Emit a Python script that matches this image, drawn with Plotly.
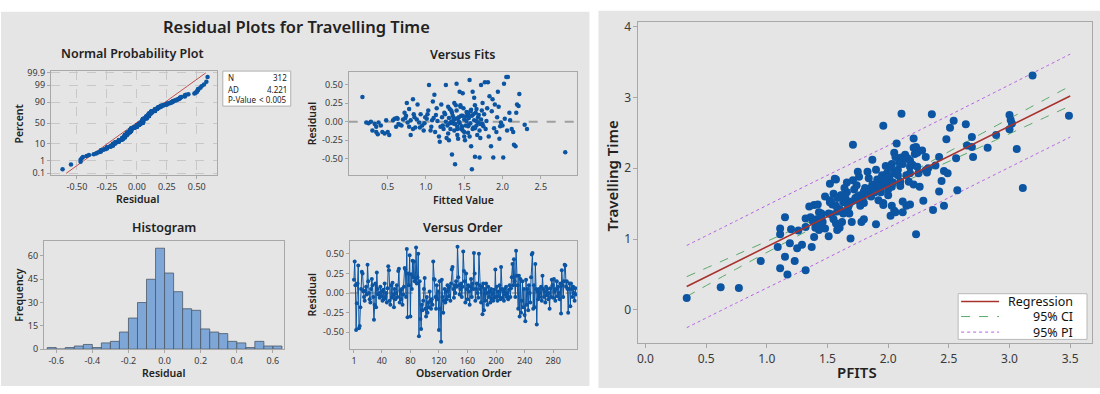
import plotly.graph_objects as go
from statistics import NormalDist

W, H = 1100, 394

# ---------------- data ----------------
# residuals in observation order
resid_order = [
    0.17, 0.40, 0.10, -0.47, -0.13, 0.12, 0.35, -0.45, -0.42, -0.18,
    0.05, 0.27, 0.25, 0.02, -0.05, -0.10, 0.03, 0.08, -0.02, 0.36,
    0.15, 0.00, -0.08, -0.12, 0.05, 0.18, 0.10, -0.05, -0.34, -0.15,
    0.12, -0.18, 0.26, 0.05, -0.02, 0.00, -0.06, 0.08, -0.04, 0.02,
    -0.10, 0.04, -0.08, 0.12, -0.05, 0.00, -0.12, 0.06, 0.34, 0.29,
    -0.10, -0.15, 0.10, -0.06, 0.13, -0.02, -0.18, 0.05, -0.08, 0.00,
    0.10, -0.05, 0.28, 0.31, -0.12, 0.03, -0.08, 0.05, -0.15, -0.02,
    0.08, 0.32, 0.30, -0.05, 0.56, -0.31, 0.25, 0.10, 0.48, -0.30,
    0.24, 0.05, 0.41, 0.20, 0.40, 0.15, 0.18, 0.58, 0.12, 0.20,
    0.50, -0.55, 0.15, -0.33, -0.46, -0.15, -0.22, -0.10, 0.05, 0.19,
    -0.20, -0.30, -0.05, -0.25, -0.12, -0.18, 0.02, -0.10, -0.20, -0.08,
    -0.15, 0.40, 0.18, 0.17, -0.05, -0.20, 0.10, -0.08, 0.02, -0.47,
    0.15, -0.20, -0.62, 0.17, -0.05, -0.25, -0.10, 0.05, -0.12, 0.02,
    -0.08, 0.10, 0.05, -0.04, 0.08, -0.10, 0.12, 0.30, 0.33, 0.05,
    -0.06, 0.10, 0.00, 0.15, 0.08, 0.59, 0.20, 0.10, -0.02, 0.05,
    0.12, -0.05, 0.08, 0.53, 0.28, 0.15, -0.12, 0.25, 0.05, -0.08,
    0.10, 0.02, -0.15, 0.08, 0.18, -0.05, 0.12, 0.05, 0.51, 0.25,
    -0.10, 0.05, 0.12, 0.00, -0.06, 0.50, 0.10, 0.05, -0.12, 0.08,
    -0.27, 0.12, -0.22, 0.05, -0.10, 0.12, 0.00, -0.15, 0.08, -0.05,
    0.02, -0.12, 0.05, -0.08, 0.00, -0.10, 0.04, -0.06, 0.30, -0.05,
    0.08, -0.10, 0.02, -0.04, 0.10, -0.08, 0.33, 0.05, -0.06, 0.02,
    -0.10, 0.05, -0.02, 0.08, -0.05, 0.00, -0.08, 0.04, 0.10, -0.05,
    0.06, 0.20, 0.37, 0.10, 0.43, 0.15, -0.05, 0.54, 0.22, 0.10,
    -0.20, 0.22, -0.30, 0.18, -0.25, -0.10, 0.15, -0.18, 0.05, -0.28,
    -0.36, 0.17, -0.15, 0.05, -0.22, 0.10, 0.00, -0.12, 0.20, 0.49,
    0.51, -0.20, 0.10, -0.18, 0.37, 0.05, -0.40, 0.02, -0.08, 0.05,
    -0.05, 0.00, 0.08, -0.10, 0.22, 0.05, -0.05, 0.02, -0.12, 0.08,
    -0.03, 0.05, -0.08, 0.00, -0.20, 0.06, -0.05, 0.17, 0.10, -0.06,
    0.18, 0.02, -0.10, 0.05, 0.15, -0.04, 0.08, 0.00, -0.08, 0.12,
    -0.26, 0.29, 0.10, -0.05, 0.15, 0.36, 0.35, 0.08, 0.15, 0.05,
    -0.25, 0.05, 0.12, -0.17, 0.12, 0.05, -0.05, 0.08, 0.00, -0.10,
    0.06, -0.02,
]

# fitted value / residual pairs
fits_fitted = [
    0.17, 0.22, 0.25, 0.28, 0.33, 0.35, 0.38, 0.35, 0.37, 0.43, 0.46, 0.50, 0.52, 0.48,
    0.59, 0.63, 0.64, 0.61, 0.70, 0.74, 0.76, 0.78, 0.80, 0.83, 0.85, 0.88, 0.75, 0.78,
    0.83, 0.89, 0.91, 0.95, 0.97, 0.99, 1.02, 1.04, 1.07, 1.09, 1.11, 1.12, 1.15, 1.18,
    1.20, 1.22, 1.24, 1.26, 1.29, 1.31, 1.33, 1.34, 1.35, 1.37, 1.38, 1.40, 1.41, 1.42,
    1.44, 1.46, 1.48, 1.50, 1.53, 1.55, 1.57, 1.59, 1.60, 1.61, 1.63, 1.64, 1.66, 1.68,
    1.70, 1.72, 1.74, 1.77, 1.79, 1.81, 1.83, 1.85, 1.88, 1.90, 1.92, 1.94, 1.96, 1.98,
    2.01, 2.02, 2.05, 2.07, 2.09, 2.12, 2.14, 2.15, 2.17, 2.18, 2.19, 2.21, 2.22, 2.29,
    2.32, 2.82,
    1.25, 1.28, 1.30, 1.32, 1.34, 1.36, 1.38, 1.40, 1.42, 1.44, 1.45, 1.46, 1.48, 1.50,
    1.52, 1.54, 1.55, 1.56, 1.58, 1.60, 1.62, 1.63, 1.65, 1.66, 1.68, 1.70, 1.72, 1.74,
    1.76, 1.78, 0.62, 0.68, 0.72, 0.80, 0.86, 0.93, 0.98, 1.03, 1.06, 1.10, 1.14, 1.17,
    1.21, 1.23, 1.27, 1.29, 1.31, 1.33, 1.37, 1.39, 1.41, 1.43, 1.47, 1.49, 1.51, 1.53,
    1.57, 1.59, 1.61, 1.64, 1.67, 1.69, 1.71, 1.73, 1.75, 1.80, 1.82, 1.86, 1.89, 1.93,
    1.97, 2.03, 2.06, 2.10, 1.35, 1.39, 1.43, 1.47, 1.52, 1.56, 1.62, 1.66, 1.71, 1.45,
    1.50, 1.58, 1.41, 1.36, 1.26, 1.19, 1.13, 1.08, 1.01, 0.92, 0.84, 0.73, 0.66, 0.57,
    0.41, 0.30, 1.55, 1.64, 1.48, 1.38, 1.30, 1.87, 1.95, 2.00,
]
fits_resid = [
    0.33, -0.01, -0.02, 0.00, -0.03, -0.07, -0.01, -0.14, -0.17, -0.14, -0.16, -0.14, -0.18, 0.02,
    0.04, 0.04, -0.03, -0.07, 0.03, 0.08, -0.01, -0.07, -0.18, -0.10, 0.06, 0.03, 0.25, 0.17,
    0.30, 0.23, -0.01, -0.05, -0.12, 0.06, 0.10, 0.49, -0.07, 0.27, 0.36, -0.14, 0.01, -0.27,
    0.23, -0.05, 0.12, 0.49, -0.16, 0.17, 0.00, -0.44, 0.08, 0.25, -0.57, 0.51, -0.07, -0.23,
    0.40, 0.08, 0.38, -0.14, 0.01, 0.10, 0.56, -0.33, -0.64, 0.40, 0.32, -0.47, 0.17, -0.01,
    -0.48, 0.49, 0.25, 0.53, 0.01, 0.53, 0.34, -0.33, -0.48, 0.23, -0.14, 0.40, -0.23, -0.01,
    -0.48, 0.51, 0.60, 0.60, 0.12, -0.10, -0.14, -0.31, -0.33, 0.12, 0.23, 0.21, 0.37, -0.04,
    -0.10, -0.41,
    0.10, -0.05, 0.05, -0.10, 0.12, 0.02, -0.03, 0.15, 0.05, -0.02, 0.20, -0.10, 0.08, 0.03,
    -0.05, 0.12, -0.15, 0.05, -0.02, 0.08, -0.08, 0.02, 0.12, -0.05, 0.06, -0.12, 0.03, -0.03,
    0.10, -0.10, 0.05, -0.05, 0.12, 0.02, -0.08, 0.10, -0.02, 0.15, -0.12, 0.05, 0.18, -0.20,
    0.06, -0.10, -0.22, 0.20, -0.02, 0.15, -0.12, 0.22, -0.18, 0.06, -0.08, 0.18, -0.25, 0.13,
    -0.20, 0.16, -0.10, 0.22, -0.18, 0.09, -0.22, 0.15, -0.06, 0.18, -0.20, 0.14, -0.09, 0.06,
    -0.06, 0.04, -0.12, 0.02, -0.02, 0.04, 0.00, -0.06, 0.07, -0.04, 0.10, 0.01, -0.03, 0.22,
    -0.20, 0.14, -0.10, 0.05, 0.00, -0.07, 0.09, 0.02, 0.04, -0.08, 0.10, 0.05, -0.04, 0.02,
    -0.05, -0.12, -0.06, -0.09, -0.12, -0.03, -0.25, 0.30, 0.20, -0.05, 0.00, -0.12, -0.06, -0.08,
]

# histogram of residuals (bin centres, counts)
hist_centers = [
    -0.625, -0.575, -0.525, -0.475, -0.425, -0.375, -0.325, -0.275, -0.225, -0.175, -0.125, -0.075, -0.025,
    0.025, 0.075, 0.125, 0.175, 0.225, 0.275, 0.325, 0.375, 0.425, 0.475, 0.525, 0.575, 0.625,
]
hist_counts = [1, 0, 1, 2, 3, 1, 4, 5, 11, 20, 30, 45, 65, 49, 37, 26, 25, 13, 11, 10, 5, 4, 1, 5, 2, 2]

# normal probability reference line end points
npp_ref_resid = [-0.59, 0.575]
npp_ref_pct = [0.1, 99.9]
npp_pct_ticks = [0.1, 1, 10, 50, 90, 99, 99.9]
npp_stats = [("N", "312"), ("AD", "4.221"), ("P-Value", "< 0.005")]

# fitted line plot: PFITS vs travelling time
pfits = [
    3.19, 3.49, 3.00, 3.01, 3.02, 3.00, 3.06, 3.11, 2.89, 2.82, 2.69, 2.65, 2.69, 2.70,
    2.64, 2.54, 2.51, 2.48, 2.56, 2.57, 2.42, 2.39, 2.36, 2.42, 2.44, 2.46, 2.49, 2.33,
    2.31, 2.32, 2.25, 2.28, 2.31, 2.26, 2.11, 1.96, 1.71, 1.87, 2.21, 2.21, 2.23, 2.07,
    2.05, 2.06, 2.11, 2.14, 2.16, 2.18, 2.22, 2.24, 2.18, 2.20, 2.12, 2.09, 2.03, 1.98,
    1.99, 2.02, 2.05, 2.07, 2.15, 2.10, 2.17, 2.24, 2.18, 1.95, 1.91, 1.84, 1.87, 1.95,
    2.02, 2.03, 2.10, 2.21, 1.75, 1.66, 1.74, 1.66, 1.55, 1.57, 1.52, 1.56, 1.77, 1.85,
    1.80, 1.94, 1.61,
    0.34, 0.62, 0.77, 0.95, 1.11, 1.17, 1.32, 1.09, 1.15, 1.23, 1.19, 1.25, 1.29, 1.37,
    1.11, 1.11, 1.20, 1.15, 1.39, 1.32, 1.32, 1.36, 1.39, 1.42, 1.35, 1.43, 1.45, 1.41,
    1.40, 1.42, 1.43, 1.45, 1.48, 1.46, 1.51, 1.51, 1.54, 1.52, 1.58, 1.55, 1.60, 1.58,
    1.57, 1.63, 1.66, 1.62, 1.68, 1.63, 1.69, 1.70, 1.70, 1.78, 1.80, 1.77, 1.80, 1.90,
    1.96, 1.96, 2.02, 2.03, 2.05, 2.06, 2.12, 2.15, 2.18, 2.12, 2.23, 2.37, 2.46, 2.29,
    1.48, 1.52, 1.58, 1.62, 1.65, 1.72, 1.75, 1.82, 1.86, 1.88, 1.92, 1.97, 2.00, 2.04,
    1.60, 1.68, 1.74, 1.79, 1.84, 1.89, 1.93, 2.01, 2.08, 1.64, 1.71, 1.76, 1.83, 1.90,
    1.94, 1.99, 2.08, 1.73, 1.81, 1.86, 1.92, 2.00, 1.57, 1.67, 1.53, 1.45, 1.38, 1.26,
]
travel = [
    3.31, 2.74, 2.75, 2.68, 2.63, 2.55, 2.27, 1.72, 2.47, 2.29, 2.44, 2.32, 2.30, 2.16,
    2.62, 2.67, 2.57, 2.41, 2.14, 1.69, 2.16, 2.04, 2.76, 1.67, 1.82, 1.96, 1.93, 2.00,
    1.97, 1.94, 1.93, 2.25, 2.16, 1.74, 2.77, 2.60, 2.33, 2.12, 2.42, 2.29, 2.30, 2.35,
    2.22, 2.16, 2.15, 2.19, 2.14, 2.11, 2.20, 2.22, 2.02, 2.05, 2.06, 2.08, 2.06, 2.03,
    1.93, 2.01, 1.93, 1.96, 1.90, 1.81, 1.81, 2.02, 1.93, 1.90, 1.84, 1.86, 1.77, 1.77,
    1.81, 1.74, 1.75, 1.77, 1.95, 1.80, 1.76, 1.66, 1.64, 1.84, 1.78, 1.85, 1.62, 1.64,
    1.67, 1.66, 1.62,
    0.17, 0.32, 0.31, 0.69, 0.59, 0.50, 0.56, 0.89, 0.75, 0.69, 0.94, 0.87, 0.92, 0.89,
    1.07, 1.15, 1.14, 1.31, 1.03, 1.17, 1.29, 1.31, 1.48, 1.49, 1.46, 1.38, 1.36, 1.28,
    1.16, 1.19, 1.13, 1.16, 1.15, 1.24, 1.04, 1.36, 1.49, 1.52, 1.39, 1.28, 1.16, 1.13,
    1.22, 1.36, 1.41, 1.24, 1.36, 1.52, 1.01, 1.24, 1.53, 1.24, 1.28, 1.47, 1.51, 1.21,
    1.51, 1.48, 1.33, 1.47, 1.40, 1.38, 1.38, 1.47, 1.49, 1.53, 1.07, 1.41, 1.47, 1.54,
    1.60, 1.55, 1.58, 1.62, 1.57, 1.70, 1.60, 1.65, 1.72, 1.68, 1.75, 1.78, 1.70, 1.80,
    1.42, 1.50, 1.55, 1.58, 1.63, 1.66, 1.70, 1.86, 1.90, 1.72, 1.83, 1.88, 1.95, 1.98,
    1.85, 1.87, 1.98, 1.58, 1.72, 1.60, 1.55, 1.62, 1.47, 1.45, 1.35, 1.30, 1.25, 1.12,
]

# regression line and 95% confidence / prediction limits
reg_x = [0.34, 3.50]
reg_y = [0.33, 3.02]
band_x = [0.34, 0.75, 1.25, 1.75, 2.25, 2.75, 3.50]
ci_upper = [0.47, 0.78, 1.16, 1.565, 2.00, 2.47, 3.16]
ci_lower = [0.19, 0.58, 1.04, 1.495, 1.90, 2.29, 2.88]
pi_upper = [0.91, 1.26, 1.69, 2.11, 2.53, 2.96, 3.61]
pi_lower = [-0.25, 0.10, 0.52, 0.95, 1.37, 1.80, 2.44]

# ---------------- styling ----------------
FONT = "Noto Sans"
BLUE = "#0b55a3"
GREY_PANEL = "#e5e5e5"
FRAME = "#a8a8a8"
TICK_FONT = dict(family=FONT, size=9, color="#3a3a3a")
REG_RED = "#a8322d"
CI_GREEN = "#5aa86a"
PI_PURPLE = "#b660e0"


def px(x):
    return x / W


def py(y):
    return 1 - y / H


def dom_x(a, b):
    return [px(a), px(b)]


def dom_y(top, bottom):
    return [py(bottom), py(top)]


fig = go.Figure()

z = NormalDist().inv_cdf

# Normal probability plot
n = len(resid_order)
sorted_res = sorted(resid_order)
npp_z = [z((i + 1 - 0.3) / (n + 0.4)) for i in range(n)]
fig.add_trace(go.Scatter(
    x=[npp_ref_resid[0], npp_ref_resid[1]],
    y=[z(p / 100) for p in npp_ref_pct],
    mode="lines", line=dict(color="#c0504d", width=1),
    xaxis="x", yaxis="y", hoverinfo="skip"))
fig.add_trace(go.Scatter(
    x=sorted_res, y=npp_z, mode="markers",
    marker=dict(color=BLUE, size=4.5), xaxis="x", yaxis="y"))

# Versus fits
fig.add_trace(go.Scatter(
    x=fits_fitted, y=fits_resid, mode="markers",
    marker=dict(color=BLUE, size=4.5), xaxis="x2", yaxis="y2"))

# Histogram
fig.add_trace(go.Bar(
    x=hist_centers, y=hist_counts, width=0.05,
    marker=dict(color="#7ea7d8", line=dict(color="#4b5866", width=0.8)),
    xaxis="x3", yaxis="y3"))

# Versus order
fig.add_trace(go.Scatter(
    x=list(range(1, n + 1)), y=resid_order, mode="lines+markers",
    line=dict(color=BLUE, width=1), marker=dict(color=BLUE, size=4),
    xaxis="x4", yaxis="y4"))

# Fitted line plot
for band, color, dash in ((pi_upper, PI_PURPLE, "dot"), (pi_lower, PI_PURPLE, "dot"),
                          (ci_upper, CI_GREEN, "dash"), (ci_lower, CI_GREEN, "dash")):
    fig.add_trace(go.Scatter(x=band_x, y=band, mode="lines",
                             line=dict(color=color, width=1, dash=dash, shape="spline"),
                             xaxis="x5", yaxis="y5"))
fig.add_trace(go.Scatter(x=pfits, y=travel, mode="markers",
                         marker=dict(color=BLUE, size=8),
                         xaxis="x5", yaxis="y5"))
fig.add_trace(go.Scatter(x=reg_x, y=reg_y, mode="lines",
                         line=dict(color=REG_RED, width=1.6),
                         xaxis="x5", yaxis="y5"))


def frame_axis(**kw):
    base = dict(showline=True, linecolor=FRAME, linewidth=1, mirror=True,
                ticks="outside", ticklen=3, tickcolor=FRAME,
                tickfont=TICK_FONT, zeroline=False, showgrid=False, fixedrange=True)
    base.update(kw)
    return base


grid = dict(showgrid=True, gridcolor="#c8c8c8", griddash="dash", gridwidth=1)
BIG_TICK = dict(family=FONT, size=12, color="#3a3a3a")

fig.update_layout(
    width=W, height=H, margin=dict(l=0, r=0, t=0, b=0),
    paper_bgcolor="white", plot_bgcolor="white", showlegend=False,
    font=dict(family=FONT, color="#222"),
    xaxis=frame_axis(domain=dom_x(50, 216), range=[-0.717, 0.667],
                     tickvals=[-0.5, -0.25, 0, 0.25, 0.5],
                     ticktext=["-0.50", "-0.25", "0.00", "0.25", "0.50"], **grid),
    yaxis=frame_axis(domain=dom_y(68, 175), range=[-3.2, 3.2],
                     tickvals=[z(p / 100) for p in npp_pct_ticks],
                     ticktext=["0.1", "1", "10", "50", "90", "99", "99.9"], **grid),
    xaxis2=frame_axis(domain=dom_x(348, 577), range=[-0.01, 2.98],
                      tickvals=[0.5, 1.0, 1.5, 2.0, 2.5],
                      ticktext=["0.5", "1.0", "1.5", "2.0", "2.5"], anchor="y2"),
    yaxis2=frame_axis(domain=dom_y(69, 175), range=[-0.717, 0.665],
                      tickvals=[-0.5, -0.25, 0, 0.25, 0.5],
                      ticktext=["-0.50", "-0.25", "0.00", "0.25", "0.50"], anchor="x2"),
    xaxis3=frame_axis(domain=dom_x(43, 283), range=[-0.668, 0.66],
                      tickvals=[-0.6, -0.4, -0.2, 0, 0.2, 0.4, 0.6],
                      ticktext=["-0.6", "-0.4", "-0.2", "0.0", "0.2", "0.4", "0.6"], anchor="y3"),
    yaxis3=frame_axis(domain=dom_y(243, 354), range=[0, 69.5],
                      tickvals=[0, 15, 30, 45, 60], anchor="x3"),
    xaxis4=frame_axis(domain=dom_x(349, 577), range=[-5, 314],
                      tickvals=[1, 40, 80, 120, 160, 200, 240, 280], anchor="y4"),
    yaxis4=frame_axis(domain=dom_y(243, 354), range=[-0.715, 0.66],
                      tickvals=[-0.5, -0.25, 0, 0.25, 0.5],
                      ticktext=["-0.50", "-0.25", "0.00", "0.25", "0.50"], anchor="x4"),
    xaxis5=frame_axis(domain=dom_x(638, 1092), range=[-0.058, 3.68],
                      tickvals=[0, 0.5, 1, 1.5, 2, 2.5, 3, 3.5],
                      ticktext=["0.0", "0.5", "1.0", "1.5", "2.0", "2.5", "3.0", "3.5"],
                      tickfont=BIG_TICK, ticklen=4, anchor="y5"),
    yaxis5=frame_axis(domain=dom_y(17, 348), range=[-0.47, 4.07],
                      tickvals=[0, 1, 2, 3, 4],
                      tickfont=BIG_TICK, ticklen=4, anchor="x5"),
)

shapes = [
    # grey panels
    dict(type="rect", xref="paper", yref="paper", x0=px(0), x1=px(589), y0=py(392), y1=py(7),
         fillcolor=GREY_PANEL, line=dict(width=0), layer="below"),
    dict(type="rect", xref="paper", yref="paper", x0=px(598), x1=px(1100), y0=py(394), y1=py(6),
         fillcolor=GREY_PANEL, line=dict(width=0), layer="below"),
    # zero reference lines
    dict(type="line", xref="x2 domain", yref="y2", x0=0, x1=1, y0=0, y1=0,
         line=dict(color="#a0a0a0", width=2, dash="dash"), layer="below"),
    dict(type="line", xref="x4 domain", yref="y4", x0=0, x1=1, y0=0, y1=0,
         line=dict(color="#a0a0a0", width=1.5, dash="dash"), layer="below"),
    # stats box
    dict(type="rect", xref="paper", yref="paper", x0=px(222), x1=px(290), y0=py(104), y1=py(68),
         fillcolor="white", line=dict(color="#b0b0b0", width=1)),
    # legend box
    dict(type="rect", xref="paper", yref="paper", x0=px(958), x1=px(1087), y0=py(344), y1=py(297),
         fillcolor="white", line=dict(color="#b8b8b8", width=1)),
]

legend_items = [
    ("Regression", dict(color=REG_RED, width=1.6), 305),
    ("95% CI", dict(color=CI_GREEN, width=1, dash="dash"), 320.5),
    ("95% PI", dict(color=PI_PURPLE, width=1, dash="dot"), 336.5),
]
for _, ln, yy in legend_items:
    shapes.append(dict(type="line", xref="paper", yref="paper",
                       x0=px(961), x1=px(999), y0=py(yy), y1=py(yy), line=ln))

annotations = []


def text(x, y, s, size, bold=False, angle=0, xanchor="center", color="#222"):
    annotations.append(dict(
        x=px(x), y=py(y), xref="paper", yref="paper", text=s, showarrow=False,
        xanchor=xanchor, yanchor="middle", textangle=angle,
        font=dict(family=FONT, size=size, color=color, weight=600 if bold else 400)))


text(296, 22, "Residual Plots for Travelling Time", 16.5, bold=True)
text(132, 50, "Normal Probability Plot", 12.5, bold=True)
text(462, 51, "Versus Fits", 12.5, bold=True)
text(163, 229, "Histogram", 12.5, bold=True)
text(462, 229, "Versus Order", 12.5, bold=True)

text(137, 200, "Residual", 10.5, bold=True)
text(463, 201, "Fitted Value", 10.5, bold=True)
text(163, 379, "Residual", 10.5, bold=True)
text(463, 379, "Observation Order", 10.5, bold=True)
text(18, 122, "Percent", 10.5, bold=True, angle=-90)
text(311, 122, "Residual", 10.5, bold=True, angle=-90)
text(18, 298, "Frequency", 10.5, bold=True, angle=-90)
text(311, 298, "Residual", 10.5, bold=True, angle=-90)

stat_rows = [75, 86.5, 97]
for (lab, val), yy in zip(npp_stats, stat_rows):
    text(225, yy, lab, 8, xanchor="left")
    text(288, yy, val, 8, xanchor="right")

text(612, 175, "Travelling Time", 15, bold=True, angle=-90)
text(857, 378, "PFITS", 15, bold=True)

for lab, _, yy in legend_items:
    text(1075, yy, lab, 12.5, xanchor="right", color="#111")

fig.update_layout(shapes=shapes, annotations=annotations)

fig.write_html("out.html")
